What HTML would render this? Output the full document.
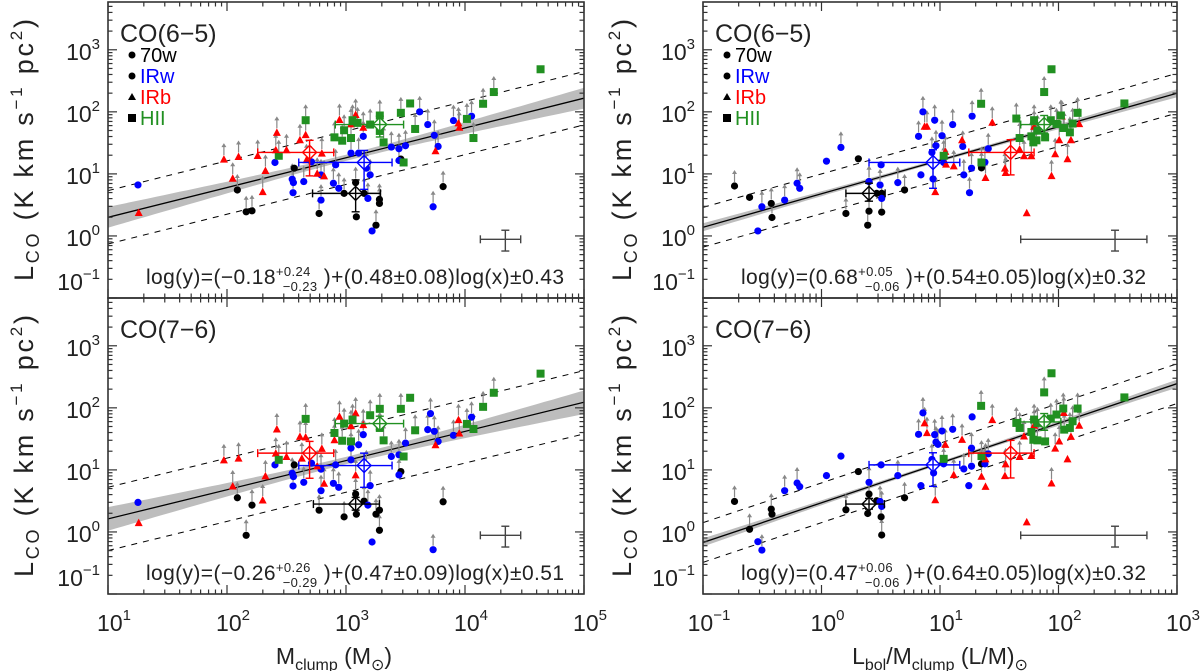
<!DOCTYPE html>
<html><head><meta charset="utf-8"><style>
body{margin:0;background:#fff}
svg{display:block;font-family:"Liberation Sans",sans-serif}
</style></head><body>
<svg id="fig" xmlns="http://www.w3.org/2000/svg" width="1200" height="671" viewBox="0 0 1200 671">
<rect width="1200" height="671" fill="#fff"/>
</svg>
<script>
// ===== Data (log10 values) =====
const tl70w=[[2.087,0.741,1],[2.161,0.389,1],[2.210,0.405,1],[2.565,1.092,0],[2.774,0.362,1],[2.984,0.686,1],[3.081,0.859,1],[3.087,0.308,0],[3.152,0.686,1],[3.252,0.173,1],[3.281,0.589,1],[3.281,0.524,1],[3.461,1.238,0],[3.816,0.795,1]];
const tlIRw=[[1.252,0.822,0],[2.403,1.184,0],[2.548,0.914,1],[2.558,0.859,1],[2.555,0.697,1],[2.645,0.876,1],[2.710,1.195,1],[2.790,0.578,1],[2.790,0.984,1],[2.894,0.849,1],[2.913,1.146,1],[2.939,0.768,1],[3.042,1.335,1],[3.106,1.335,1],[3.145,1.605,1],[3.171,1.092,1],[3.184,0.605,1],[3.203,0.984,1],[3.219,0.081,0],[3.381,1.432,1],[3.445,1.405,1],[3.445,1.216,1],[3.500,1.454,1],[3.619,2.000,1],[3.687,1.795,1],[3.732,0.470,1],[3.742,1.622,1],[3.774,1.443,1],[3.903,1.859,1],[4.055,1.930,1]];
const tlIRb=[[1.258,0.378,0],[1.974,1.238,1],[2.048,0.930,1],[2.097,1.281,1],[2.300,0.714,1],[2.258,1.297,1],[2.323,1.054,1],[2.410,1.389,1],[2.419,1.670,1],[2.500,1.389,1],[2.613,1.551,1],[2.661,1.632,1],[2.668,1.227,1],[2.758,1.011,1],[2.816,0.968,1],[2.797,1.335,1],[2.945,1.876,1],[3.042,1.805,1],[3.081,1.957,1],[3.145,1.751,1],[3.752,1.373,1],[3.945,1.822,1],[3.952,1.751,1]];
const tlHII=[[2.435,1.292,1],[2.661,1.865,1],[2.903,1.589,1],[2.968,1.535,1],[2.984,1.703,1],[3.042,1.578,1],[3.055,1.865,1],[3.097,1.822,1],[3.203,1.795,1],[3.284,1.941,1],[3.284,1.692,1],[3.316,1.508,1],[3.461,1.984,1],[3.484,1.184,0],[3.539,2.135,0],[3.581,1.724,1],[4.016,1.886,1],[4.071,1.578,1],[4.152,2.130,1],[4.242,2.319,1],[4.635,2.686,0]];
const tlMeans=[[3.081,0.686,2.719,3.290,0.389,0.903],[3.152,1.184,2.603,3.387,0.751,1.378],[2.694,1.346,2.258,2.897,0.968,1.541],[3.284,1.795,2.910,3.484,1.595,1.930]];
const tlFit=[-0.18,0.48,0.43];

const bl70w=[[2.087,0.551,1],[2.161,-0.054,1],[2.210,0.432,1],[2.565,1.081,0],[2.774,0.351,1],[2.984,0.243,1],[3.081,0.611,1],[3.087,0.286,0],[3.152,0.497,1],[3.252,0.286,1],[3.281,0.351,1],[3.281,0.027,1],[3.461,0.973,0],[3.816,0.486,1]];
const blIRw=[[1.252,0.476,0],[2.403,1.081,0],[2.548,0.946,1],[2.558,0.892,1],[2.555,0.741,1],[2.645,0.800,1],[2.710,1.108,1],[2.790,0.665,1],[2.790,1.011,1],[2.894,0.784,1],[2.913,1.081,1],[2.939,0.719,1],[3.042,1.351,1],[3.042,1.162,1],[3.106,1.405,1],[3.145,1.568,1],[3.171,1.065,1],[3.184,0.432,1],[3.203,0.746,1],[3.219,-0.162,0],[3.381,1.216,1],[3.445,1.243,1],[3.445,0.919,1],[3.500,1.432,1],[3.687,1.649,1],[3.710,1.908,1],[3.732,-0.286,1],[3.742,1.622,1],[3.774,1.459,1],[3.903,1.557,1],[4.055,1.849,1]];
const blIRb=[[1.258,0.151,0],[1.974,1.162,1],[2.048,0.741,1],[2.097,1.189,1],[2.300,0.514,1],[2.323,0.903,1],[2.410,1.270,1],[2.419,1.659,1],[2.500,1.216,1],[2.613,1.541,1],[2.661,1.530,1],[2.629,1.189,1],[2.758,1.065,1],[2.816,0.784,1],[2.797,1.346,1],[2.903,1.486,1],[2.945,1.865,1],[3.042,1.714,1],[3.081,1.919,1],[3.081,0.919,1],[3.145,1.730,1],[3.752,1.405,1],[3.945,1.811,1],[3.952,1.595,1]];
const blHII=[[2.435,1.162,1],[2.661,1.822,1],[2.903,1.595,1],[2.968,1.470,1],[2.984,1.746,1],[3.042,1.459,1],[3.055,1.811,1],[3.203,1.881,1],[3.284,1.984,1],[3.284,1.676,1],[3.316,1.476,1],[3.461,1.984,1],[3.484,1.216,0],[3.539,2.162,0],[3.581,1.638,1],[4.016,1.741,1],[4.071,1.659,1],[4.152,2.016,1],[4.242,2.243,1],[4.635,2.551,0]];
const blMeans=[[3.081,0.449,2.726,3.281,0.351,0.557],[3.152,1.070,2.603,3.387,0.719,1.270],[2.694,1.270,2.258,2.897,0.865,1.459],[3.284,1.746,2.910,3.484,1.649,1.865]];
const blFit=[-0.26,0.47,0.51];

const tr70w=[[-0.734,0.805,1],[-0.607,0.622,0],[-0.424,0.524,1],[-0.418,0.297,1],[0.206,0.362,1],[0.311,1.243,0],[0.401,0.876,1],[0.401,0.400,1],[0.390,0.173,1],[0.466,0.686,0],[0.508,0.686,0],[0.508,0.384,1],[0.701,0.741,1],[1.350,1.097,1]];
const trIRw=[[-0.537,0.081,0],[-0.503,0.470,1],[-0.311,0.578,1],[-0.206,0.849,1],[-0.184,0.768,1],[0.042,1.205,0],[0.164,1.427,1],[0.401,0.876,1],[0.494,0.822,1],[0.503,1.146,0],[0.508,0.605,1],[0.644,0.859,1],[0.819,1.605,1],[0.839,0.984,0],[0.856,2.000,1],[0.932,1.346,1],[0.941,0.919,1],[0.955,1.865,1],[0.966,1.454,1],[1.017,1.616,1],[1.031,1.184,1],[1.107,1.795,1],[1.192,1.443,1],[1.201,0.984,1],[1.249,0.697,1],[1.266,1.092,1],[1.271,1.930,1],[1.379,1.189,1],[1.407,1.405,1]];
const trIRb=[[0.870,1.768,1],[0.890,1.768,1],[0.960,0.714,1],[1.045,1.362,1],[1.051,1.157,1],[1.116,1.130,1],[1.186,1.551,0],[1.384,0.941,1],[1.441,1.832,1],[1.548,1.092,1],[1.554,1.022,1],[1.672,1.400,1],[1.709,1.292,1],[1.732,0.373,0],[1.771,1.292,1],[1.794,1.768,1],[1.941,0.973,1],[1.972,1.324,1],[2.006,1.551,1],[2.028,1.930,1],[2.076,1.243,1],[2.105,1.551,1],[2.175,1.811,1]];
const trHII=[[1.031,1.292,1],[1.347,2.130,1],[1.350,1.184,1],[1.644,1.892,1],[1.672,1.578,1],[1.771,1.605,1],[1.788,1.508,1],[1.794,1.865,1],[1.814,1.541,1],[1.822,1.697,1],[1.879,2.319,1],[1.887,1.589,1],[1.935,1.865,1],[1.941,2.686,0],[1.983,1.805,1],[2.020,1.941,1],[2.040,1.741,1],[2.048,1.741,1],[2.096,1.670,1],[2.119,1.811,1],[2.161,1.984,1],[2.556,2.135,0]];
const trMeans=[[0.401,0.686,0.206,0.537,0.560,0.850],[0.941,1.184,0.401,1.167,0.768,1.389],[1.596,1.346,1.243,1.794,0.984,1.551],[1.879,1.795,1.681,2.020,1.659,1.941]];
const trFit=[0.68,0.54,0.32];

const br70w=[[-0.734,0.492,1],[-0.607,0.043,1],[-0.424,0.368,1],[-0.418,0.286,0],[0.206,0.357,1],[0.311,0.973,0],[0.401,0.611,1],[0.390,0.297,1],[0.466,0.503,0],[0.503,0.243,1],[0.508,-0.049,1],[0.701,0.551,1],[1.350,1.097,1]];
const brIRw=[[-0.537,-0.157,0],[-0.503,-0.292,1],[-0.311,0.665,1],[-0.206,0.789,1],[-0.184,0.730,0],[0.042,0.908,0],[0.164,1.222,0],[0.401,0.800,1],[0.494,0.492,1],[0.503,1.081,0],[0.508,0.411,1],[0.644,0.908,1],[0.819,1.573,1],[0.839,0.746,0],[0.856,1.919,1],[0.932,1.168,1],[0.946,0.951,1],[0.955,1.568,1],[0.966,1.449,1],[0.983,1.411,1],[1.017,1.627,1],[1.031,1.097,1],[1.107,1.654,1],[1.201,1.016,1],[1.243,0.746,0],[1.266,1.059,1],[1.266,1.351,1],[1.271,1.854,0],[1.379,1.097,1],[1.407,1.259,1]];
const brIRb=[[0.870,1.757,1],[0.890,1.600,1],[0.960,0.519,1],[1.045,1.411,1],[1.116,0.924,1],[1.186,1.492,1],[1.350,0.897,1],[1.384,0.735,0],[1.384,1.178,1],[1.441,1.811,1],[1.548,0.908,1],[1.554,1.097,1],[1.672,1.216,1],[1.709,1.546,1],[1.732,0.162,0],[1.771,1.232,1],[1.794,1.719,1],[1.941,0.789,1],[1.972,1.351,1],[2.006,1.465,1],[2.045,1.924,1],[2.076,1.178,0],[2.105,1.541,1],[2.175,1.719,1]];
const brHII=[[1.031,1.178,1],[1.347,2.032,1],[1.350,1.222,1],[1.644,1.757,1],[1.672,1.676,1],[1.771,1.611,1],[1.788,1.486,1],[1.794,1.811,1],[1.822,1.476,1],[1.822,1.757,1],[1.879,2.249,1],[1.887,1.459,1],[1.935,1.827,1],[1.941,2.557,0],[1.983,1.892,1],[2.040,1.989,1],[2.048,1.649,1],[2.096,1.676,1],[2.119,1.784,1],[2.161,1.989,1],[2.556,2.168,0]];
const brMeans=[[0.401,0.449,0.206,0.531,0.368,0.541],[0.941,1.081,0.401,1.167,0.735,1.276],[1.596,1.270,1.243,1.794,0.870,1.476],[1.879,1.773,1.681,2.020,1.638,1.908]];
const brFit=[0.47,0.64,0.32];

const mErrBar=[4.339,-0.054,4.129,4.468,-0.243,0.092];
const rErrBar=[2.477,-0.054,1.681,2.746,-0.243,0.092];
const xTickLabelsM=["1","2","3","4","5"];
const xTickLabelsR=["−1","0","1","2","3"];
const yTickLabels=["3","2","1","0","−1"];

// ===== Drawing =====
const NS="http://www.w3.org/2000/svg";
const svg=document.getElementById('fig');
function mk(tag,attrs,parent){const e=document.createElementNS(NS,tag);for(const k in attrs)e.setAttribute(k,attrs[k]);(parent||svg).appendChild(e);return e;}
const COL={w70:"#000",irw:"#0000ff",irb:"#ff0000",hii:"#219021"};

function panel(cfg){
  const g=mk('g',{});
  
  
  const X=v=>cfg.x0+(v-cfg.xmin)/(cfg.xmax-cfg.xmin)*(cfg.x1-cfg.x0);
  const Y=v=>cfg.y1-(v-cfg.ymin)/(cfg.ymax-cfg.ymin)*(cfg.y1-cfg.y0);
  const clip='clip-'+cfg.name;
  const cp=mk('clipPath',{id:clip},g);mk('rect',{x:cfg.x0,y:cfg.y0,width:cfg.x1-cfg.x0,height:cfg.y1-cfg.y0},cp);
  const inner=mk('g',{'clip-path':`url(#${clip})`},g);
  const [a,b,s]=cfg.fit;
  let up=[],dn=[];
  for(let i=0;i<=60;i++){const xv=cfg.xmin+(cfg.xmax-cfg.xmin)*i/60;const hw=Math.sqrt(cfg.c0*cfg.c0+Math.pow(cfg.c1*(xv-cfg.xc),2));const yv=a+b*xv;up.push(X(xv).toFixed(1)+','+Y(yv+hw).toFixed(1));dn.unshift(X(xv).toFixed(1)+','+Y(yv-hw).toFixed(1));}
  const band=mk('polygon',{points:up.concat(dn).join(' '),fill:'#bdbdbd'},inner);
  
  
  const fl=mk('line',{x1:X(cfg.xmin),y1:Y(a+b*cfg.xmin),x2:X(cfg.xmax),y2:Y(a+b*cfg.xmax),stroke:'#000','stroke-width':1.3},inner);
  
  
  [s,-s].forEach(o=>{const dl=mk('line',{x1:X(cfg.xmin),y1:Y(a+o+b*cfg.xmin),x2:X(cfg.xmax),y2:Y(a+o+b*cfg.xmax),stroke:'#000','stroke-width':1,'stroke-dasharray':'6,6'},inner);
    
    });
  const arrows=mk('g',{stroke:'#888',fill:'#888','stroke-width':1.2},inner);
  const allSets=[[cfg.d70,'w70','c'],[cfg.dirw,'irw','c'],[cfg.dirb,'irb','t'],[cfg.dhii,'hii','s']];
  allSets.forEach(([arr])=>arr.forEach(p=>{if(!p[2])return;const px=X(p[0]),py=Y(p[1]);
    mk('line',{x1:px,y1:py-4,x2:px,y2:py-14},arrows);
    mk('polygon',{points:`${px-2.5},${py-12} ${px+2.5},${py-12} ${px},${py-16}`,stroke:'none'},arrows);}));
  allSets.forEach(([arr,ck,shape])=>arr.forEach(p=>{const px=X(p[0]),py=Y(p[1]);let e;
    if(shape==='c')e=mk('circle',{cx:px,cy:py,r:3.6,fill:COL[ck]},inner);
    else if(shape==='t')e=mk('polygon',{points:`${px-4},${py+3.5} ${px+4},${py+3.5} ${px},${py-4}`,fill:COL[ck]},inner);
    else e=mk('rect',{x:px-4,y:py-4,width:8,height:8,fill:COL[ck]},inner);
    
    }));
  const mcols=['w70','irw','irb','hii'];
  cfg.means.forEach((m,i)=>{const c=COL[mcols[i]];const mg=mk('g',{stroke:c,fill:'none','stroke-width':1.4},inner);
    
    
    const px=X(m[0]),py=Y(m[1]);
    mk('line',{x1:X(m[2]),y1:py,x2:X(m[3]),y2:py},mg);
    mk('line',{x1:px,y1:Y(m[4]),x2:px,y2:Y(m[5])},mg);
    [m[2],m[3]].forEach(v=>mk('line',{x1:X(v),y1:py-4,x2:X(v),y2:py+4},mg));
    [m[4],m[5]].forEach(v=>mk('line',{x1:px-4,y1:Y(v),x2:px+4,y2:Y(v)},mg));
    mk('polygon',{points:`${px},${py-7} ${px+7},${py} ${px},${py+7} ${px-7},${py}`,fill:'#fff'},mg);
    mk('line',{x1:px-7,y1:py,x2:px+7,y2:py},mg);mk('line',{x1:px,y1:py-7,x2:px,y2:py+7},mg);});
  const e=cfg.err;const eg=mk('g',{stroke:'#444','stroke-width':1.4},inner);
  
  
  const ex=X(e[0]),ey=Y(e[1]);
  mk('line',{x1:X(e[2]),y1:ey,x2:X(e[3]),y2:ey},eg);mk('line',{x1:ex,y1:Y(e[4]),x2:ex,y2:Y(e[5])},eg);
  [e[2],e[3]].forEach(v=>mk('line',{x1:X(v),y1:ey-4,x2:X(v),y2:ey+4},eg));
  [e[4],e[5]].forEach(v=>mk('line',{x1:ex-4,y1:Y(v),x2:ex+4,y2:Y(v)},eg));
  const fr=mk('rect',{x:cfg.x0,y:cfg.y0,width:cfg.x1-cfg.x0,height:cfg.y1-cfg.y0,fill:'none',stroke:'#333','stroke-width':1.6},g);
  
  
  const tk=mk('g',{stroke:'#333','stroke-width':1.2},g);
  for(let d=cfg.xmin;d<cfg.xmax+0.001;d++){for(let k=1;k<=9;k++){const v=d+Math.log10(k);if(v>cfg.xmax+1e-6)break;const px=X(v);const L=k===1?9:4.5;
    mk('line',{x1:px,y1:cfg.y1,x2:px,y2:cfg.y1-L},tk);mk('line',{x1:px,y1:cfg.y0,x2:px,y2:cfg.y0+L},tk);}}
  for(let d=Math.floor(cfg.ymin);d<cfg.ymax;d++){for(let k=1;k<=9;k++){const v=d+Math.log10(k);if(v>cfg.ymax||v<cfg.ymin)continue;const py=Y(v);const L=k===1?9:4.5;
    mk('line',{x1:cfg.x0,y1:py,x2:cfg.x0+L,y2:py},tk);mk('line',{x1:cfg.x1,y1:py,x2:cfg.x1-L,y2:py},tk);}}
  yTickLabels.forEach((t,i)=>{const v=3-i;let py=Y(v)+10;if(v===-1)py=cfg.y1-8;
    const tx=mk('text',{x:cfg.x0-8,y:py,'text-anchor':'end','font-size':23,fill:'#222'},g);
    
    
    tx.appendChild(document.createTextNode('10'));const sp=mk('tspan',{dy:-11,'font-size':15},tx);sp.textContent=t;});
  if(cfg.xlabels){cfg.xlabels.forEach((t,i)=>{const px=X(cfg.xmin+i);
    const tx=mk('text',{x:px+6,y:cfg.y1+37,'text-anchor':'middle','font-size':23,fill:'#222'},g);
    
    
    tx.appendChild(document.createTextNode('10'));const sp=mk('tspan',{dy:-11,'font-size':15},tx);sp.textContent=t;});}
  const tt=mk('text',{x:cfg.x0+12,y:cfg.y0+40,'font-size':25,fill:'#222'},g);tt.textContent=cfg.title;
  
  
  const eq=mk('text',{x:cfg.x0+38,y:cfg.y1-14,'font-size':21,fill:'#222',textLength:cfg.eqLen,lengthAdjust:'spacing'},g);
  
  
  eq.innerHTML=`log(y)=(${cfg.eq[0]}<tspan dy="-8" font-size="13">${cfg.eq[1]}</tspan><tspan dx="-28" dy="15" font-size="13">${cfg.eq[2]}</tspan><tspan dy="-7"> )+(${cfg.eq[3]})log(x)±${cfg.eq[4]}</tspan>`;
  const yt=mk('text',{transform:`translate(${cfg.ytx},${(cfg.y0+cfg.y1)/2}) rotate(-90)`,'text-anchor':'middle','font-size':27,fill:'#222',textLength:262,lengthAdjust:'spacing'},g);
  
  
  yt.innerHTML='L<tspan dy="6" font-size="18">CO</tspan><tspan dy="-6"> (K  km  s</tspan><tspan dy="-11" font-size="17">−1</tspan><tspan dy="11">  pc</tspan><tspan dy="-11" font-size="17">2</tspan><tspan dy="11">)</tspan>';
  if(cfg.legend){const lg=mk('g',{},g);
    
    
    const items=[['70w','#000','c'],['IRw','#0000ff','c'],['IRb','#ff0000','t'],['HII','#219021','s']];
    items.forEach((it,i)=>{const ly=cfg.y0+53+i*21,lx=cfg.x0+24;
      const ent=mk('g',{},lg);
      
      
      if(it[2]==='c')mk('circle',{cx:lx,cy:ly,r:3.5,fill:'#000'},ent);
      else if(it[2]==='t')mk('polygon',{points:`${lx-4},${ly+3} ${lx+4},${ly+3} ${lx},${ly-4}`,fill:'#000'},ent);
      else mk('rect',{x:lx-4,y:ly-4,width:8,height:8,fill:'#000'},ent);
      const t=mk('text',{x:lx+8,y:ly+7,'font-size':20,fill:it[1]},ent);t.textContent=it[0];});}
}
const common={ymin:-1,ymax:3.77};
panel(Object.assign({name:'panel-co65-mass',x0:108,x1:584,y0:2,y1:298,xmin:1,xmax:5,d70:tl70w,dirw:tlIRw,dirb:tlIRb,dhii:tlHII,means:tlMeans,fit:tlFit,c0:0.05,c1:0.08,xc:3,err:mErrBar,title:'CO(6−5)',legend:true,ytx:33,eqLen:418,eq:['−0.18','+0.24','−0.23','0.48±0.08','0.43']},common));
panel(Object.assign({name:'panel-co76-mass',x0:108,x1:584,y0:298,y1:594,xmin:1,xmax:5,d70:bl70w,dirw:blIRw,dirb:blIRb,dhii:blHII,means:blMeans,fit:blFit,c0:0.06,c1:0.09,xc:3,err:mErrBar,title:'CO(7−6)',xlabels:xTickLabelsM,ytx:33,eqLen:418,eq:['−0.26','+0.26','−0.29','0.47±0.09','0.51']},common));
panel(Object.assign({name:'panel-co65-lm',x0:703,x1:1177,y0:2,y1:298,xmin:-1,xmax:3,d70:tr70w,dirw:trIRw,dirb:trIRb,dhii:trHII,means:trMeans,fit:trFit,c0:0.025,c1:0.03,xc:1,err:rErrBar,title:'CO(6−5)',legend:true,ytx:631,eqLen:405,eq:['0.68','+0.05','−0.06','0.54±0.05','0.32']},common));
panel(Object.assign({name:'panel-co76-lm',x0:703,x1:1177,y0:298,y1:594,xmin:-1,xmax:3,d70:br70w,dirw:brIRw,dirb:brIRb,dhii:brHII,means:brMeans,fit:brFit,c0:0.025,c1:0.03,xc:1,err:rErrBar,title:'CO(7−6)',xlabels:xTickLabelsR,ytx:631,eqLen:405,eq:['0.47','+0.06','−0.06','0.64±0.05','0.32']},common));
const xt1=mk('text',{x:334,y:664,'text-anchor':'middle','font-size':23,fill:'#222'});


xt1.innerHTML='M<tspan dy="6" font-size="16">clump</tspan><tspan dy="-6">  (M</tspan><tspan dy="6" font-size="16">⊙</tspan><tspan dy="-6">)</tspan>';
const xt2=mk('text',{x:940,y:664,'text-anchor':'middle','font-size':23,fill:'#222'});


xt2.innerHTML='L<tspan dy="6" font-size="16">bol</tspan><tspan dy="-6">/M</tspan><tspan dy="6" font-size="16">clump</tspan><tspan dy="-6">  (L/M)</tspan><tspan dy="6" font-size="16">⊙</tspan>';
</script>
</body></html>
